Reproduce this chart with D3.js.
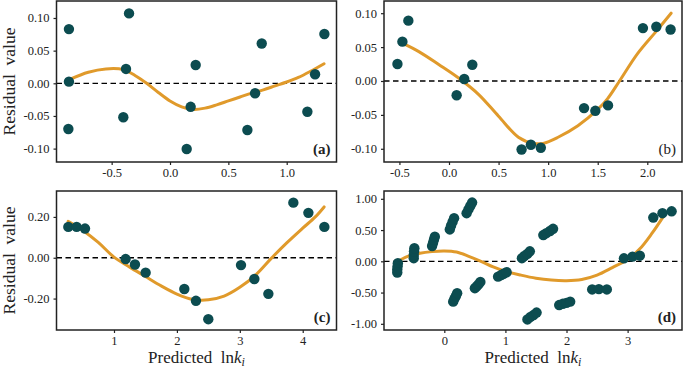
<!DOCTYPE html>
<html><head><meta charset="utf-8">
<script src="https://cdn.jsdelivr.net/npm/d3@7"></script>
<style>
html,body{margin:0;padding:0;background:#fff;}
svg{display:block;font-family:"Liberation Serif","Times New Roman",serif;}
</style></head>
<body>
<svg id="chart" width="685" height="368"></svg>
<script>
// ---- Panel (a) data ----
const aX = [-0.866,-0.866,-0.871,-0.351,-0.377,-0.400,0.143,0.177,0.220,0.663,0.729,0.786,1.177,1.243,1.323];
const aY = [0.083,0.0025,-0.070,0.107,0.022,-0.052,-0.1006,-0.036,0.028,-0.0715,-0.0153,0.061,-0.0435,0.0138,0.0755];
const aFitX = [-0.86,-0.7,-0.55,-0.4,-0.3,-0.2,-0.1,0.0,0.1,0.2,0.3,0.4,0.5,0.6,0.7,0.8,0.9,1.0,1.1,1.2,1.32];
const aFitY = [0.006,0.017,0.022,0.021,0.012,0.000,-0.014,-0.027,-0.036,-0.040,-0.038,-0.033,-0.027,-0.021,-0.015,-0.010,-0.004,0.002,0.009,0.018,0.030];

// ---- Panel (b) data ----
const bX = [-0.52,-0.47,-0.41,0.077,0.154,0.235,0.732,0.826,0.926,1.362,1.476,1.604,1.956,2.091,2.235];
const bY = [0.025,0.058,0.089,-0.021,0.003,0.024,-0.101,-0.094,-0.0985,-0.040,-0.044,-0.036,0.078,0.080,0.076];
const bFitX = [-0.46,-0.3,-0.1,0.1,0.3,0.5,0.7,0.85,0.95,1.1,1.3,1.5,1.6,1.72,1.9,2.1,2.24];
const bFitY = [0.055,0.043,0.024,0.004,-0.020,-0.052,-0.083,-0.092,-0.092,-0.083,-0.066,-0.042,-0.026,0.000,0.040,0.075,0.100];

// ---- Panel (c) data ----
const cX = [0.274,0.406,0.539,1.185,1.333,1.503,2.118,2.303,2.499,3.019,3.231,3.454,3.851,4.09,4.344];
const cY = [0.151,0.151,0.143,-0.0065,-0.033,-0.073,-0.153,-0.211,-0.301,-0.036,-0.104,-0.177,0.270,0.220,0.151];
const cFitX = [0.27,0.5,0.75,1.0,1.25,1.5,1.75,2.0,2.25,2.5,2.75,3.0,3.25,3.5,3.75,4.0,4.2,4.34];
const cFitY = [0.178,0.135,0.075,0.003,-0.046,-0.092,-0.138,-0.178,-0.204,-0.206,-0.188,-0.145,-0.085,-0.003,0.074,0.145,0.200,0.249];

// ---- Panel (d) data ----
const dX = [-0.76,-0.765,-0.77,-0.77, -0.50,-0.50,-0.495,-0.49, -0.20,-0.185,-0.17,-0.155, 0.09,0.11,0.135,0.16,
            0.365,0.395,0.425,0.455, 0.145,0.165,0.19,0.21, 0.50,0.53,0.56,0.59, 0.88,0.93,0.97,1.02,
            1.27,1.31,1.36,1.40, 1.62,1.67,1.73,1.78, 1.36,1.41,1.46,1.51, 1.88,1.94,2.0,2.06,
            2.42,2.53,2.66, 2.94,3.08,3.20, 3.42,3.57,3.72];
const dY = [-0.03,-0.08,-0.13,-0.18, 0.05,0.10,0.16,0.21, 0.245,0.295,0.345,0.395, 0.51,0.57,0.63,0.69,
            0.77,0.83,0.885,0.94, -0.645,-0.60,-0.555,-0.51, -0.43,-0.40,-0.37,-0.33, -0.245,-0.22,-0.20,-0.175,
            0.05,0.085,0.12,0.16, 0.42,0.45,0.485,0.52, -0.93,-0.89,-0.86,-0.82, -0.70,-0.68,-0.665,-0.645,
            -0.45,-0.445,-0.45, 0.048,0.075,0.09, 0.70,0.77,0.80];
const dFitX = [-0.80,-0.6,-0.4,-0.2,0.0,0.2,0.4,0.6,0.8,1.0,1.25,1.5,1.75,2.0,2.25,2.5,2.75,3.0,3.2,3.4,3.6];
const dFitY = [-0.02,0.08,0.13,0.155,0.165,0.148,0.08,0.00,-0.09,-0.16,-0.22,-0.27,-0.30,-0.31,-0.29,-0.22,-0.10,0.03,0.20,0.45,0.74];

// ---- tick labels ----
const abXTicks = [-0.5,0.0,0.5,1.0,1.5,2.0];
const abYTicks = [-0.10,-0.05,0.00,0.05,0.10];
const cXTicks = [1,2,3,4];
const cYTicks = [-0.20,0.00,0.20];
const dXTicks = [0,1,2,3];
const dYTicks = [-1.00,-0.50,0.00,0.50,1.00];
const panelLabels = ["(a)","(b)","(c)","(d)"];

const DOT = "#0c4c50", FIT = "#e09a2b", INK = "#222";

const panels = [
  {x:aX,y:aY,fx:aFitX,fy:aFitY,box:[56.5,336.5,1,162],xd:[-0.9726,1.4267],yd:[-0.1205,0.126],xt:abXTicks.slice(0,4),xf:".1f",yt:abYTicks,yf:".2f",lab:panelLabels[0],bold:true,ylabel:true,xlabel:false},
  {x:bX,y:bY,fx:bFitX,fy:bFitY,box:[384,682,1,162],xd:[-0.6556,2.35],yd:[-0.1195,0.118],xt:abXTicks,xf:".1f",yt:abYTicks,yf:".2f",lab:panelLabels[1],bold:false,ylabel:false,xlabel:false},
  {x:cX,y:cY,fx:cFitX,fy:cFitY,box:[56.5,336.5,191,330],xd:[0.086,4.537],yd:[-0.354,0.327],xt:cXTicks,xf:"d",yt:cYTicks,yf:".2f",lab:panelLabels[2],bold:true,ylabel:true,xlabel:true},
  {x:dX,y:dY,fx:dFitX,fy:dFitY,box:[384,682,191,330],xd:[-0.987,3.89],yd:[-1.099,1.125],xt:dXTicks,xf:"d",yt:dYTicks,yf:".2f",lab:panelLabels[3],bold:true,ylabel:false,xlabel:true}
];

const svg = d3.select("#chart");

function fmt(f){ const g=d3.format(f); return v=>g(v).replace("−","-"); }

panels.forEach(p=>{
  const [x0,x1,y0,y1] = p.box;
  const xs = d3.scaleLinear().domain(p.xd).range([x0,x1]);
  const ys = d3.scaleLinear().domain(p.yd).range([y1,y0]);
  const g = svg.append("g");

  // axes
  const xa = g.append("g").attr("transform",`translate(0,${y1})`)
    .call(d3.axisBottom(xs).tickValues(p.xt).tickFormat(fmt(p.xf)).tickSize(3).tickPadding(3).tickSizeOuter(0));
  const ya = g.append("g").attr("transform",`translate(${x0},0)`)
    .call(d3.axisLeft(ys).tickValues(p.yt).tickFormat(fmt(p.yf)).tickSize(3).tickPadding(4).tickSizeOuter(0));
  [xa,ya].forEach(a=>{
    a.select(".domain").remove();
    a.selectAll("line").attr("stroke",INK).attr("stroke-width",1.2);
    a.selectAll("text").attr("fill",INK).style("font-size","12.5px").style("font-family","'Liberation Serif',serif");
  });

  // zero line
  g.append("line").attr("x1",x0).attr("x2",x1).attr("y1",ys(0)).attr("y2",ys(0))
    .attr("stroke","#000").attr("stroke-width",1.3).attr("stroke-dasharray","5.5,3.5");

  // fit
  const pts = p.fx.map((v,i)=>[v,p.fy[i]]);
  g.append("path").datum(pts)
    .attr("d", d3.line().x(d=>xs(d[0])).y(d=>ys(d[1])).curve(d3.curveCatmullRom.alpha(0.5)))
    .attr("fill","none").attr("stroke",FIT).attr("stroke-width",3).attr("stroke-linecap","round");

  // dots
  g.selectAll("circle.pt").data(p.x.map((v,i)=>[v,p.y[i]])).join("circle")
    .attr("class","pt").attr("cx",d=>xs(d[0])).attr("cy",d=>ys(d[1])).attr("r",5.2)
    .attr("fill",DOT);

  // frame
  g.append("rect").attr("x",x0).attr("y",y0).attr("width",x1-x0).attr("height",y1-y0)
    .attr("fill","none").attr("stroke",INK).attr("stroke-width",1.5);

  // panel label
  g.append("text").attr("x",x1-6).attr("y",y1-8.5).attr("text-anchor","end")
    .style("font-size","15px").style("font-weight",p.bold?"bold":"normal").attr("fill",INK).text(p.lab);

  if(p.ylabel){
    g.append("text").attr("transform",`translate(15,${(y0+y1)/2}) rotate(-90)`)
      .attr("text-anchor","middle").style("font-size","17.5px").attr("fill",INK)
      .attr("xml:space","preserve").text("Residual  value");
  }
  if(p.xlabel){
    const t = g.append("text").attr("x",(x0+x1)/2).attr("y",363).attr("text-anchor","middle")
      .style("font-size","17px").attr("fill",INK).attr("xml:space","preserve");
    t.append("tspan").text("Predicted  ln");
    t.append("tspan").style("font-style","italic").text("k");
    t.append("tspan").attr("dy",3).style("font-size","12px").style("font-style","italic").text("i");
  }
});
</script>
</body></html>
